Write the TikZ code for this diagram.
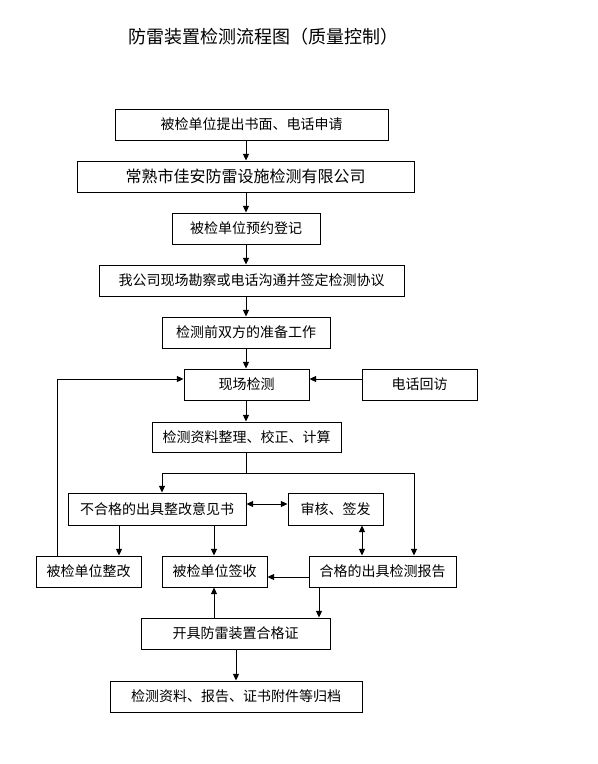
\documentclass[tikz,border=0pt]{standalone}
\usepackage{fontspec}
\setmainfont{Noto Sans CJK SC}
\usetikzlibrary{arrows.meta}
\tikzset{
  box/.style={draw, line width=0.7pt, inner sep=0pt, font=\fontsize{10.5pt}{12pt}\selectfont},
  wh/.style 2 args={minimum width=#1*0.75pt, minimum height=#2*0.75pt},
  conn/.style={line width=0.7pt},
  arr/.style={conn, -{Triangle[length=5pt,width=4.5pt]}},
  arrb/.style={conn, {Triangle[length=5pt,width=4.5pt]}-{Triangle[length=5pt,width=4.5pt]}},
}
\begin{document}
\begin{tikzpicture}[x=0.75pt, y=-0.75pt]
\useasboundingbox[fill=white] (0,0) rectangle (597,764);
\node[font=\fontsize{13.5pt}{16pt}\selectfont] (title) at (263,37) {防雷装置检测流程图（质量控制）};
\node[box, wh={273}{31}] (b1) at (251.5,124.5) {被检单位提出书面、电话申请};
\node[box, wh={337}{31}, font=\fontsize{12pt}{14pt}\selectfont] (b2) at (245.5,176.5) {常熟市佳安防雷设施检测有限公司};
\node[box, wh={148}{31}] (b3) at (246,228.5) {被检单位预约登记};
\node[box, wh={305}{31}] (b4) at (251.5,280.5) {我公司现场勘察或电话沟通并签定检测协议};
\node[box, wh={168}{31}] (b5) at (246,332.5) {检测前双方的准备工作};
\node[box, wh={125}{31}] (b6) at (246.5,384.5) {现场检测};
\node[box, wh={115}{31}] (b7) at (419.5,384.5) {电话回访};
\node[box, wh={189}{30}] (b8) at (246.5,437) {检测资料整理、校正、计算};
\node[box, wh={178}{32}] (b9) at (157,509) {不合格的出具整改意见书};
\node[box, wh={95}{32}] (b10) at (335.5,509) {审核、签发};
\node[box, wh={105}{31}] (b11) at (88.5,571.5) {被检单位整改};
\node[box, wh={105}{31}] (b12) at (214.5,571.5) {被检单位签收};
\node[box, wh={147}{31}] (b13) at (382.5,571.5) {合格的出具检测报告};
\node[box, wh={189}{31}] (b14) at (235.5,633.5) {开具防雷装置合格证};
\node[box, wh={252}{31}] (b15) at (236,696.5) {检测资料、报告、证书附件等归档};
% helper coordinates
\coordinate (sp) at (246,0);
\coordinate (jL) at (162,473);
\coordinate (jR) at (414,473);
\coordinate (fb) at (57,379);
\coordinate (y504) at (0,504);
\coordinate (x362) at (362,0);
\coordinate (x119) at (119,0);
\coordinate (x214) at (214,0);
\coordinate (y577) at (0,577);
\coordinate (x319) at (319,0);
\coordinate (x236) at (236,0);
% spine
\draw[arr] (sp |- b1.south) -- (sp |- b2.north);
\draw[arr] (sp |- b2.south) -- (sp |- b3.north);
\draw[arr] (sp |- b3.south) -- (sp |- b4.north);
\draw[arr] (sp |- b4.south) -- (sp |- b5.north);
\draw[arr] (sp |- b5.south) -- (sp |- b6.north);
\draw[arr] (sp |- b6.south) -- (sp |- b8.north);
\draw[conn] (sp |- b8.south) -- (sp |- jL);
\draw[conn] (jL) -- (jR);
\draw[arr] (jL) -- (jL |- b9.north);
\draw[arr] (jR) -- (jR |- b13.north);
% feedback
\draw[arr] (b7.west |- fb) -- (b6.east |- fb);
\draw[arr] (fb |- b11.north) -- (fb) -- (b6.west |- fb);
% middle
\draw[arrb] (b9.east |- y504) -- (b10.west |- y504);
\draw[arrb] (x362 |- b10.south) -- (x362 |- b13.north);
\draw[arr] (x119 |- b9.south) -- (x119 |- b11.north);
\draw[arr] (x214 |- b9.south) -- (x214 |- b12.north);
\draw[arr] (b13.west |- y577) -- (b12.east |- y577);
\draw[arr] (x319 |- b13.south) -- (x319 |- b14.north);
\draw[arr] (x214 |- b14.north) -- (x214 |- b12.south);
\draw[arr] (x236 |- b14.south) -- (x236 |- b15.north);
\end{tikzpicture}
\end{document}
